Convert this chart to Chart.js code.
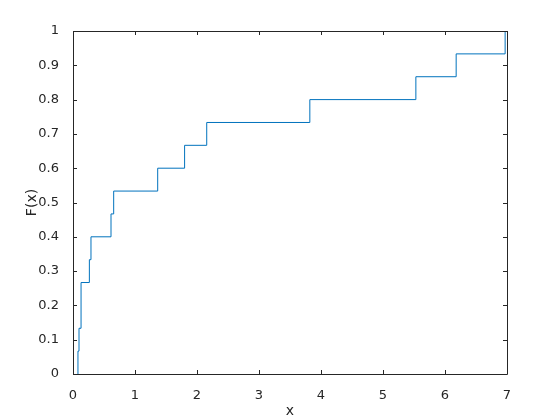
<!DOCTYPE html>
<html>
<head>
<meta charset="utf-8">
<script src="https://cdn.jsdelivr.net/npm/chart.js@4"></script>
<style>
  html, body { margin: 0; padding: 0; background: #fff; }
  #wrap { width: 560px; height: 420px; }
</style>
</head>
<body>
<div id="wrap"><canvas id="cdfChart" width="560" height="420"></canvas></div>
<script>
var stepX = [0.08, 0.097, 0.13, 0.264, 0.29, 0.613, 0.656, 1.366, 1.80, 2.157, 3.82, 5.53, 6.18, 6.97];
var stepY = [0.0667, 0.1333, 0.2667, 0.3333, 0.4, 0.4667, 0.5333, 0.6, 0.6667, 0.7333, 0.8, 0.8667, 0.9333, 1.0];
var xTicks = [0, 1, 2, 3, 4, 5, 6, 7];
var yTicks = [0, 0.1, 0.2, 0.3, 0.4, 0.5, 0.6, 0.7, 0.8, 0.9, 1];

var points = [{ x: stepX[0], y: 0 }];
for (var i = 0; i < stepX.length; i++) {
    points.push({ x: stepX[i], y: stepY[i] });
}
points.push({ x: 7, y: 1 });

var axisColor = '#262626';

// matlab style box with inward ticks
var boxPlugin = {
    id: 'box',
    afterDraw: function (chart) {
        var c = chart.ctx, a = chart.chartArea;
        var xs = chart.scales.x, ys = chart.scales.y;
        c.save();
        c.strokeStyle = axisColor;
        c.lineWidth = 1;
        c.beginPath();
        c.rect(Math.round(a.left) + 0.5, Math.round(a.top) + 0.5,
               Math.round(a.right - a.left), Math.round(a.bottom - a.top));
        xs.ticks.forEach(function (t) {
            var px = Math.round(xs.getPixelForValue(t.value)) + 0.5;
            c.moveTo(px, a.bottom); c.lineTo(px, a.bottom - 4);
            c.moveTo(px, a.top); c.lineTo(px, a.top + 4);
        });
        ys.ticks.forEach(function (t) {
            var py = Math.round(ys.getPixelForValue(t.value)) + 0.5;
            c.moveTo(a.left, py); c.lineTo(a.left + 4, py);
            c.moveTo(a.right, py); c.lineTo(a.right - 4, py);
        });
        c.stroke();
        c.restore();
    }
};

var ctx = document.getElementById('cdfChart');
var myChart = new Chart(ctx, {
    type: 'scatter',
    plugins: [boxPlugin],
    data: {
        datasets: [{
            data: points,
            showLine: true,
            stepped: 'before',   // horizontal first, then the jump
            borderColor: '#0072BD',
            borderWidth: 1,
            pointRadius: 0,
            fill: false
        }]
    },
    options: {
        responsive: false,
        animation: false,
        layout: { padding: { left: 24, top: 31, right: 53, bottom: 0 } },
        plugins: { legend: { display: false }, tooltip: { enabled: false } },
        scales: {
            x: {
                type: 'linear',
                min: 0, max: 7,
                afterBuildTicks: function (s) { s.ticks = xTicks.map(function (v) { return { value: v }; }); },
                afterFit: function (s) { s.height = 46; },
                grid: { display: false },
                border: { display: false },
                ticks: { color: axisColor, padding: 6, maxRotation: 0,
                         font: { family: 'DejaVu Sans', size: 13 } },
                title: { display: true, text: 'x', color: axisColor, padding: { top: 1, bottom: 0 },
                         font: { family: 'DejaVu Sans', size: 14 } }
            },
            y: {
                type: 'linear',
                min: 0, max: 1,
                afterBuildTicks: function (s) { s.ticks = yTicks.map(function (v) { return { value: v }; }); },
                afterFit: function (s) { s.width = 49; },
                grid: { display: false },
                border: { display: false },
                ticks: { color: axisColor, padding: 6,
                         font: { family: 'DejaVu Sans', size: 13 },
                         callback: function (v) { return String(Math.round(v * 10) / 10); } },
                title: { display: true, text: 'F(x)', color: axisColor, padding: { top: 0, bottom: 0 },
                         font: { family: 'DejaVu Sans', size: 14 } }
            }
        }
    }
});
</script>
</body>
</html>
